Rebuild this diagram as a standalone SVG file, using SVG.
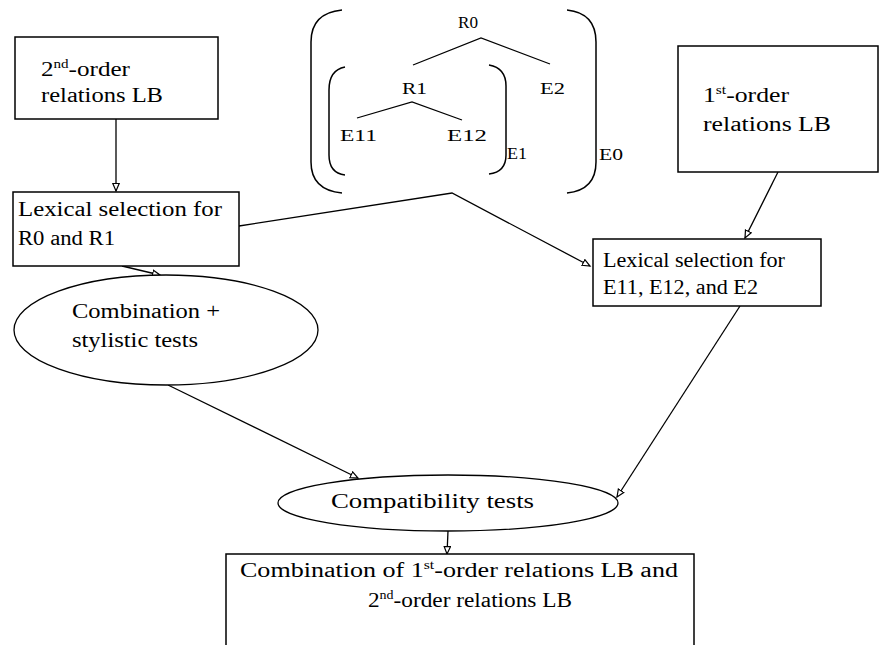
<svg xmlns="http://www.w3.org/2000/svg" width="884" height="645" viewBox="0 0 884 645">
<style>
  .box { fill: #fff; stroke: #000; stroke-width: 1.5; }
  .ell { fill: #fff; stroke: #000; stroke-width: 1.3; }
  .t { font-family: "Liberation Serif", "Times New Roman", serif; font-size: 20px; fill: #000; }
  .s { font-size: 12px; }
  .tr { font-family: "Liberation Serif", "Times New Roman", serif; font-size: 17px; fill: #000; }
  .ln { fill: none; stroke: #000; stroke-width: 1.3; }
  .br { fill: none; stroke: #000; stroke-width: 1.5; }
  .conn { fill: none; stroke: #000; stroke-width: 1.3; marker-end: url(#arr); }
</style>
<defs>
  <marker id="arr" markerUnits="userSpaceOnUse" markerWidth="12" markerHeight="12" refX="8" refY="4" orient="auto">
    <path d="M0.5,0.8 L8,4 L0.5,7.2 Z" fill="#fff" stroke="#000" stroke-width="1.2"/>
  </marker>
</defs>
<rect width="884" height="645" fill="#fff"/>

<g id="tree">
  <path class="br" d="M342,10 Q311,13 311,42 L311,162 Q311,190 342,193"/>
  <path class="br" d="M567,10 Q596,13 596,42 L596,162 Q596,190 567,193"/>
  <path class="br" d="M345,67 Q329,70 329,90 L329,155 Q329,173 345,175"/>
  <path class="br" d="M489,65 Q506,68 506,86 L506,155 Q506,172 489,174"/>
  <polyline class="ln" points="413,65 481,38 550,64"/>
  <polyline class="ln" points="357,118 412,102 462,120"/>
  <text class="tr" x="458" y="28" textLength="20" lengthAdjust="spacingAndGlyphs">R0</text>
  <text class="tr" x="402" y="94" textLength="25" lengthAdjust="spacingAndGlyphs">R1</text>
  <text class="tr" x="540" y="94" textLength="25" lengthAdjust="spacingAndGlyphs">E2</text>
  <text class="tr" x="340" y="141" textLength="37" lengthAdjust="spacingAndGlyphs">E11</text>
  <text class="tr" x="447" y="141" textLength="40" lengthAdjust="spacingAndGlyphs">E12</text>
  <text class="tr" x="507" y="159" textLength="20" lengthAdjust="spacingAndGlyphs">E1</text>
  <text class="tr" x="599" y="160" textLength="24" lengthAdjust="spacingAndGlyphs">E0</text>
</g>

<g id="connectors">
  <line class="conn" x1="116" y1="119" x2="116" y2="191"/>
  <line class="conn" x1="122" y1="266" x2="160" y2="275"/>
  <polyline class="conn" points="239,226 452,193 590,266"/>
  <line class="conn" x1="778" y1="172" x2="745" y2="238"/>
  <line class="conn" x1="168" y1="385" x2="358" y2="478"/>
  <line class="conn" x1="740" y1="306" x2="617" y2="497"/>
  <line class="conn" x1="448" y1="531" x2="447" y2="554"/>
</g>

<g id="second-order-lb">
  <rect class="box" x="15" y="37" width="203" height="82"/>
  <text class="t" x="41" y="76" textLength="89" lengthAdjust="spacingAndGlyphs">2<tspan class="s" dy="-8">nd</tspan><tspan dy="8">-order</tspan></text>
  <text class="t" x="41" y="102" textLength="122" lengthAdjust="spacingAndGlyphs">relations LB</text>
</g>

<g id="lex-sel-r">
  <rect class="box" x="13" y="192" width="226" height="74"/>
  <text class="t" x="18" y="216" textLength="204" lengthAdjust="spacingAndGlyphs">Lexical selection for</text>
  <text class="t" x="18" y="245" textLength="97" lengthAdjust="spacingAndGlyphs">R0 and R1</text>
</g>

<g id="combination-stylistic">
  <ellipse class="ell" cx="166" cy="330" rx="152" ry="55"/>
  <text class="t" x="72" y="318" textLength="148" lengthAdjust="spacingAndGlyphs">Combination +</text>
  <text class="t" x="72" y="347" textLength="126" lengthAdjust="spacingAndGlyphs">stylistic tests</text>
</g>

<g id="first-order-lb">
  <rect class="box" x="678" y="46" width="200" height="126"/>
  <text class="t" x="703" y="102" textLength="86" lengthAdjust="spacingAndGlyphs">1<tspan class="s" dy="-8">st</tspan><tspan dy="8">-order</tspan></text>
  <text class="t" x="703" y="131" textLength="128" lengthAdjust="spacingAndGlyphs">relations LB</text>
</g>

<g id="lex-sel-e">
  <rect class="box" x="593" y="239" width="228" height="67"/>
  <text class="t" x="603" y="267" textLength="182" lengthAdjust="spacingAndGlyphs">Lexical selection for</text>
  <text class="t" x="603" y="294" textLength="155" lengthAdjust="spacingAndGlyphs">E11, E12, and E2</text>
</g>

<g id="compatibility">
  <ellipse class="ell" cx="448" cy="503" rx="170" ry="28"/>
  <text class="t" x="331" y="508" textLength="203" lengthAdjust="spacingAndGlyphs">Compatibility tests</text>
</g>

<g id="combination-lb">
  <rect class="box" x="226" y="554" width="468" height="110"/>
  <text class="t" x="240" y="577" textLength="438" lengthAdjust="spacingAndGlyphs">Combination of 1<tspan class="s" dy="-8">st</tspan><tspan dy="8">-order relations LB and</tspan></text>
  <text class="t" x="368" y="607" textLength="204" lengthAdjust="spacingAndGlyphs">2<tspan class="s" dy="-8">nd</tspan><tspan dy="8">-order relations LB</tspan></text>
</g>
</svg>
